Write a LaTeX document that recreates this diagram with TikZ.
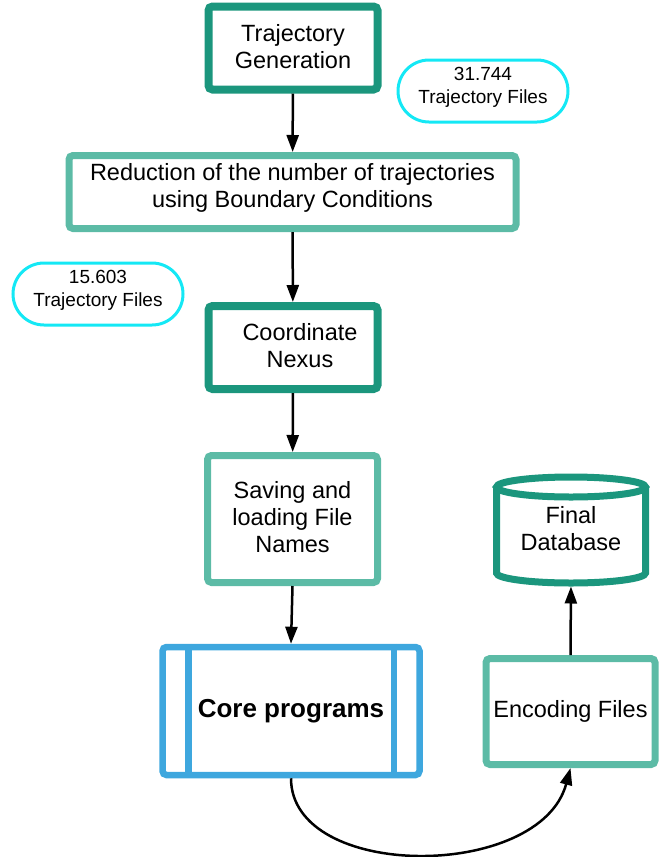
\documentclass[tikz,border=0pt]{standalone}
\usepackage{fontspec}
\setmainfont{Liberation Sans}
\usetikzlibrary{arrows.meta}
\definecolor{darkteal}{RGB}{27,150,125}
\definecolor{lightteal}{RGB}{92,187,166}
\definecolor{coreblue}{RGB}{62,167,222}
\definecolor{countcyan}{RGB}{20,232,245}
\begin{document}
\begin{tikzpicture}[x=1pt,y=-1pt,%
    stepdark/.style={draw=darkteal,line width=8pt,rounded corners=4pt,%
      align=center,inner sep=2pt,font=\fontsize{23.5}{27}\selectfont,%
      minimum width=169pt,minimum height=83pt,text depth=4pt},%
    steplight/.style={draw=lightteal,line width=7pt,rounded corners=4pt,%
      align=center,inner sep=2pt,font=\fontsize{23.5}{27}\selectfont},%
    countbox/.style={draw=countcyan,line width=3pt,rounded corners=31pt,%
      align=center,inner sep=2pt,font=\fontsize{19}{23}\selectfont,%
      minimum width=170pt,minimum height=62pt,text depth=12pt},%
    corebox/.style={draw=coreblue,line width=6.5pt,rounded corners=4pt,%
      inner sep=2pt,font=\bfseries\fontsize{26}{30}\selectfont,%
      minimum width=257pt,minimum height=128pt},%
    dbline/.style={draw=darkteal,line width=7pt},%
    flow/.style={-{Triangle[length=17pt,width=12pt]},line width=2.5pt}] %
    \useasboundingbox (0,0) rectangle (671,857);%

    % main column
    \node[stepdark] (gen) at (293,48) {Trajectory\\Generation};%
    \node[steplight,minimum width=447pt,minimum height=73pt,text depth=13pt] (reduce)%
      at (292.5,192) {Reduction of the number of trajectories\\using Boundary Conditions};%
    \node[stepdark] (nexus) at (293,347.5)%
      {\hspace*{14pt}Coordinate\\\hspace*{14pt}Nexus};%
    \node[steplight,minimum width=170pt,minimum height=127pt,text depth=5pt] (save)%
      at (292.5,519) {Saving and\\loading File\\Names};%
    \node[corebox] (core) at (291,711) {Core programs};%

    % file counts
    \node[countbox] (count1) at (483,91) {31.744\\Trajectory Files};%
    \node[countbox] (count2) at (98,294) {15.603\\Trajectory Files};%

    % right column
    \node[steplight,minimum width=169pt,minimum height=106pt] (encode)%
      at (570.5,711.5) {Encoding Files};%
    \node[align=center,inner sep=0pt,outer sep=0pt,minimum width=149pt,%
      minimum height=106pt,text depth=4pt,font=\fontsize{23.5}{27}\selectfont] (db)%
      at (571,530) {Final\\Database};%

    % side bars of the core box
    \draw[draw=coreblue,line width=6.5pt] ([xshift=29pt]core.north west)%
      -- ([xshift=29pt]core.south west);%
    \draw[draw=coreblue,line width=6.5pt] ([xshift=-29pt]core.north east)%
      -- ([xshift=-29pt]core.south east);%

    % database cylinder
    \draw[dbline] ([yshift=-10pt]db.north) ellipse [x radius=74.5,y radius=10];%
    \draw[dbline] ([yshift=-10pt]db.north west) -- ([yshift=10pt]db.south west)%
      arc[start angle=180,end angle=0,x radius=74.5,y radius=10]%
      -- ([yshift=-10pt]db.north east);%

    \draw[flow] (gen)--(reduce);%
    \draw[flow] (reduce)--(nexus);%
    \draw[flow] (nexus)--(save);%
    \draw[flow] (save.south)--(core.north);%
    \draw[flow] (core.south) .. controls (291,881) and (540,881) .. (encode.south);%
    \draw[flow,shorten >=3.5pt] (encode.north)--(db.south);%
  \end{tikzpicture}
\end{document}
